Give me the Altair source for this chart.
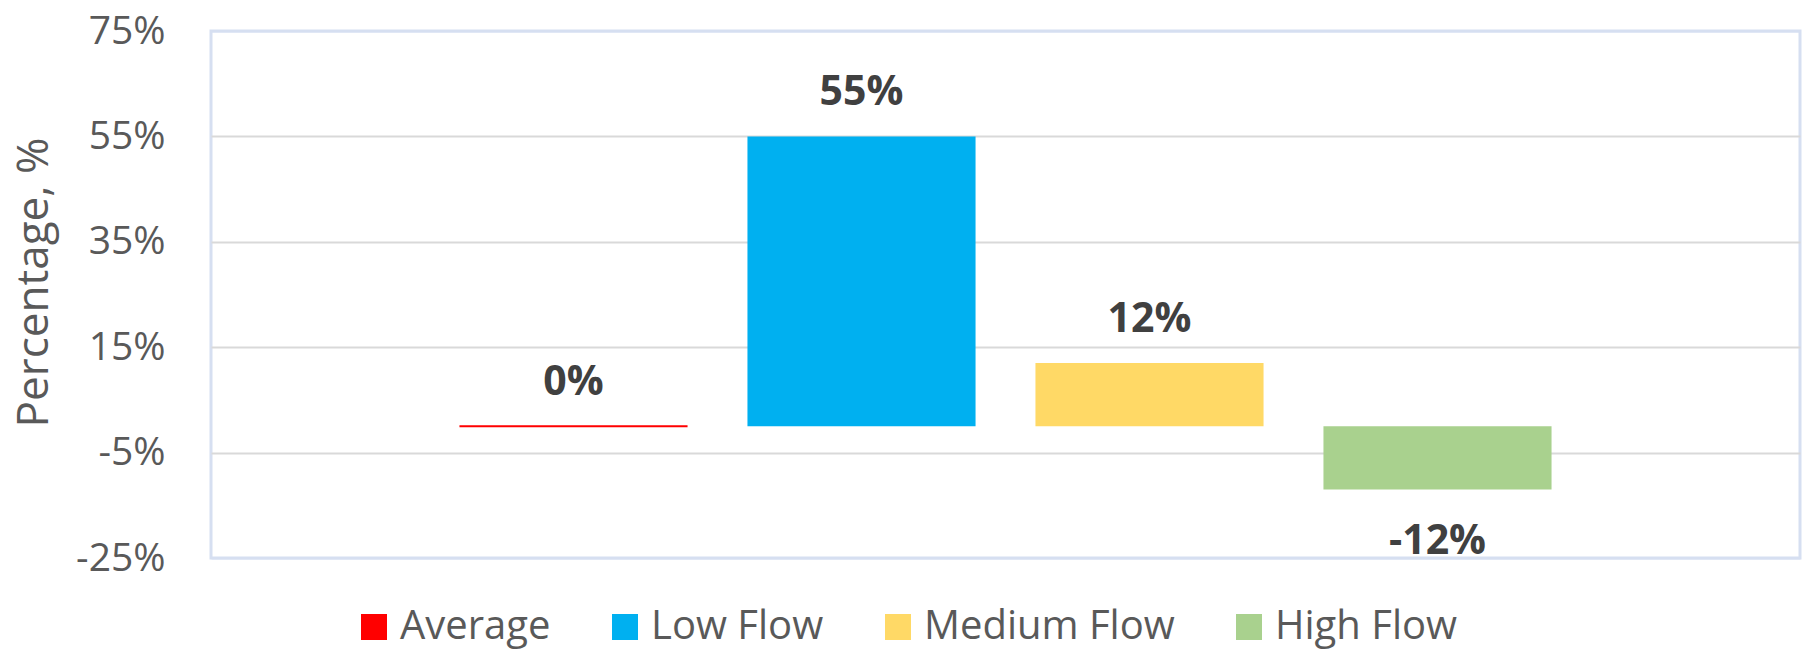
import altair as alt
import pandas as pd

# ---- data ----
series = ["Average", "Low Flow", "Medium Flow", "High Flow"]
values = [0, 55, 12, -12]
colors = ["#FF0000", "#00B0F0", "#FFD966", "#A9D18E"]
y_ticks = [-25, -5, 15, 35, 55, 75]
y_title = "Percentage, %"

df = pd.DataFrame({"series": series, "value": values})
df["label"] = [f"{v}%" for v in values]

W, H = 1589, 527
FONT = "Open Sans"
AXIS_GREY = "#595959"
LABEL_GREY = "#404040"
FRAME = "#D6DFF1"

x = alt.X("series:N", sort=series, axis=None,
          scale=alt.Scale(paddingInner=0.208, paddingOuter=0.8627))
y = alt.Y("value:Q",
          scale=alt.Scale(domain=[-25, 75], nice=False, zero=False),
          axis=alt.Axis(values=y_ticks, labelExpr="datum.value + '%'",
                        title=y_title, titleFont=FONT, titleFontSize=44,
                        titleFontWeight="normal", titleColor=AXIS_GREY,
                        titleAngle=270, titleX=-177, titleY=251,
                        titleAlign="center", titleBaseline="middle",
                        labelFont=FONT, labelFontSize=39, labelColor=AXIS_GREY,
                        labelPadding=46, ticks=False, domain=False,
                        grid=True, gridWidth=2,
                        gridColor={"condition": {"test": "datum.value == 75 || datum.value == -25",
                                                 "value": FRAME},
                                   "value": "#D9D9D9"}))

base = alt.Chart(df)

bars = base.mark_bar(stroke="#FF0000").encode(
    x=x,
    y=y,
    y2=alt.datum(0),
    color=alt.Color("series:N",
                    scale=alt.Scale(domain=series, range=colors),
                    legend=alt.Legend(orient="none", legendX=143, legendY=576,
                                      direction="horizontal", columns=4, title=None,
                                      symbolType="square", symbolSize=676,
                                      symbolStrokeWidth=0, symbolOpacity=1,
                                      labelFont=FONT, labelFontSize=40,
                                      labelColor=AXIS_GREY, labelOffset=6,
                                      columnPadding=54, labelLimit=0)),
    strokeWidth=alt.condition("datum.value == 0", alt.value(2), alt.value(0)),
)

pos_labels = base.transform_filter("datum.value >= 0").mark_text(
    dy=-31, baseline="alphabetic", align="center", font=FONT,
    fontSize=41, fontWeight="bold", color=LABEL_GREY
).encode(x=x, y=y, text="label:N")

neg_labels = base.transform_filter("datum.value < 0").mark_text(
    dy=65, baseline="alphabetic", align="center", font=FONT,
    fontSize=41, fontWeight="bold", color=LABEL_GREY
).encode(x=x, y=y, text="label:N")

chart = alt.layer(bars, pos_labels, neg_labels).properties(
    width=W, height=H,
    padding={"left": 211, "top": 31, "right": 3, "bottom": 96},
    autosize=alt.AutoSizeParams(type="none"),
    background="white",
).configure_view(stroke=FRAME, strokeWidth=3)

chart.save("out.html", embed_options={"renderer": "svg", "actions": False})
